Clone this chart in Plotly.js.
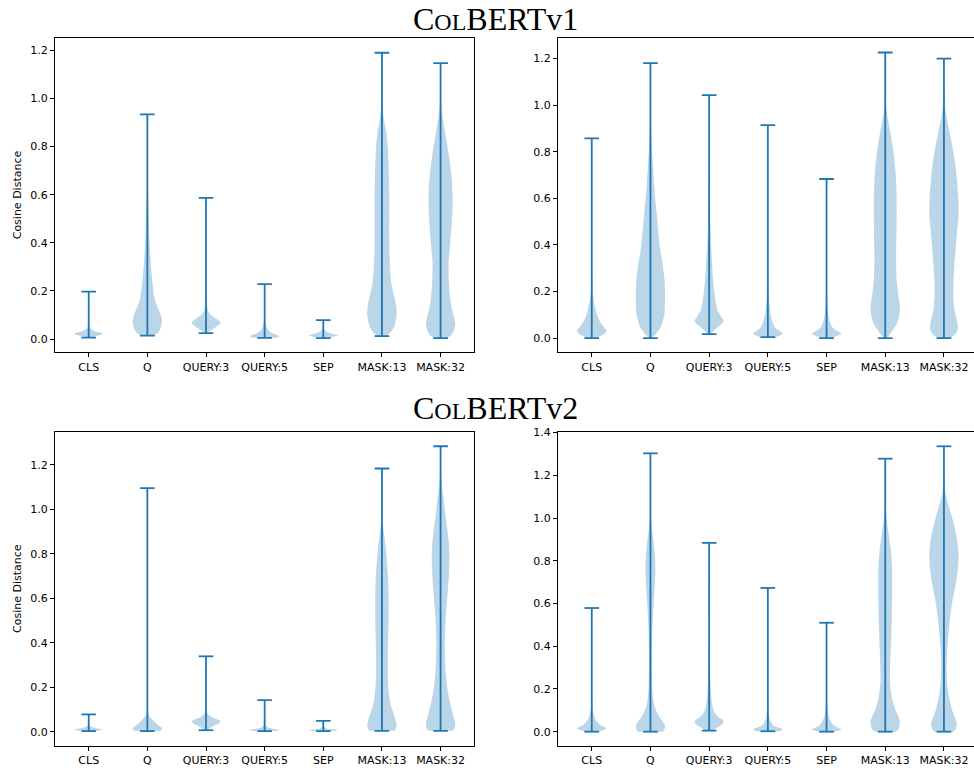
<!DOCTYPE html>
<html>
<head>
<meta charset="utf-8">
<script src="https://cdn.plot.ly/plotly-3.0.1.min.js"></script>
<style>html,body{margin:0;padding:0;background:#fff}#chart{width:974px;height:770px}</style>
</head>
<body>
<div id="chart"></div>
<script>
// ---------------- DATA ----------------
const categories = ['CLS', 'Q', 'QUERY:3', 'QUERY:5', 'SEP', 'MASK:13', 'MASK:32'];
const groupTitles = ['C<span style="font-size:24px">OL</span>BERTv1', 'C<span style="font-size:24px">OL</span>BERTv2'];
const yAxisLabel = 'Cosine Distance';

// Each violin: list of [cosine distance, relative density (0..1)], from min to max.
const v1LeftProfiles = [
  [[0.006,0.15],[0.012,0.45],[0.018,0.85],[0.023,1.0],[0.028,0.7],[0.035,0.35],[0.045,0.12],[0.06,0.04],[0.09,0.01],[0.197,0]],
  [[0.014,0.45],[0.025,0.7],[0.04,0.87],[0.06,0.97],[0.08,1.0],[0.1,0.92],[0.12,0.78],[0.15,0.58],[0.18,0.46],[0.25,0.32],[0.32,0.23],[0.38,0.17],[0.45,0.12],[0.52,0.08],[0.6,0.05],[0.7,0.02],[0.8,0.008],[0.934,0]],
  [[0.025,0.12],[0.035,0.3],[0.045,0.55],[0.055,0.8],[0.067,1.0],[0.078,0.85],[0.09,0.55],[0.1,0.35],[0.11,0.2],[0.13,0.09],[0.16,0.04],[0.22,0.01],[0.587,0]],
  [[0.005,0.75],[0.012,1.0],[0.018,0.8],[0.025,0.5],[0.035,0.28],[0.05,0.14],[0.07,0.06],[0.1,0.02],[0.228,0]],
  [[0.004,0.3],[0.01,0.7],[0.016,1.0],[0.022,0.6],[0.03,0.25],[0.04,0.08],[0.055,0.02],[0.079,0]],
  [[0.012,0.3],[0.03,0.62],[0.06,0.88],[0.1,1.0],[0.14,0.97],[0.18,0.82],[0.23,0.65],[0.3,0.55],[0.4,0.5],[0.5,0.5],[0.6,0.5],[0.7,0.47],[0.8,0.4],[0.86,0.3],[0.9,0.18],[0.95,0.06],[1.0,0.02],[1.1,0.005],[1.19,0]],
  [[0.004,0.45],[0.015,0.7],[0.035,0.9],[0.06,1.0],[0.09,0.92],[0.13,0.75],[0.18,0.64],[0.25,0.56],[0.32,0.55],[0.4,0.66],[0.48,0.76],[0.55,0.82],[0.6,0.82],[0.67,0.75],[0.75,0.6],[0.82,0.42],[0.88,0.25],[0.93,0.12],[0.97,0.05],[1.05,0.01],[1.147,0]]
];
const v1RightProfiles = [
  [[0,0.3],[0.01,0.65],[0.02,0.9],[0.032,1.0],[0.045,0.85],[0.065,0.62],[0.09,0.42],[0.12,0.27],[0.16,0.13],[0.2,0.06],[0.3,0.02],[0.5,0.005],[0.857,0]],
  [[0,0.1],[0.02,0.4],[0.05,0.72],[0.1,0.95],[0.18,1.0],[0.25,0.96],[0.32,0.82],[0.39,0.64],[0.45,0.55],[0.52,0.45],[0.59,0.34],[0.66,0.25],[0.74,0.17],[0.81,0.1],[0.88,0.05],[0.95,0.02],[1.05,0.005],[1.18,0]],
  [[0.017,0.15],[0.03,0.3],[0.045,0.55],[0.06,0.85],[0.075,1.0],[0.09,0.85],[0.12,0.57],[0.15,0.46],[0.18,0.39],[0.25,0.27],[0.32,0.2],[0.39,0.14],[0.46,0.09],[0.55,0.05],[0.65,0.02],[0.8,0.008],[1.043,0]],
  [[0.004,0.5],[0.012,0.85],[0.02,1.0],[0.03,0.8],[0.04,0.58],[0.05,0.45],[0.065,0.34],[0.08,0.27],[0.1,0.2],[0.12,0.15],[0.15,0.1],[0.18,0.07],[0.22,0.04],[0.3,0.015],[0.5,0.004],[0.914,0]],
  [[0,0.3],[0.008,0.65],[0.018,1.0],[0.028,0.8],[0.038,0.55],[0.05,0.36],[0.065,0.25],[0.08,0.18],[0.1,0.12],[0.13,0.07],[0.18,0.035],[0.25,0.015],[0.4,0.004],[0.683,0]],
  [[0,0.12],[0.01,0.25],[0.03,0.47],[0.06,0.78],[0.09,0.93],[0.12,1.0],[0.16,0.95],[0.2,0.86],[0.25,0.78],[0.32,0.74],[0.4,0.75],[0.47,0.77],[0.55,0.78],[0.62,0.77],[0.7,0.72],[0.78,0.6],[0.85,0.44],[0.9,0.3],[0.95,0.15],[1.0,0.05],[1.07,0.015],[1.226,0]],
  [[0,0.45],[0.015,0.75],[0.035,0.93],[0.055,0.95],[0.08,0.87],[0.12,0.72],[0.18,0.64],[0.25,0.65],[0.32,0.72],[0.4,0.82],[0.47,0.92],[0.53,1.0],[0.6,0.98],[0.67,0.9],[0.74,0.79],[0.8,0.64],[0.86,0.46],[0.9,0.33],[0.95,0.18],[1.0,0.07],[1.07,0.02],[1.2,0]]
];
const v2LeftProfiles = [
  [[0.003,0.4],[0.007,0.8],[0.011,1.0],[0.015,0.6],[0.02,0.25],[0.027,0.08],[0.04,0.02],[0.078,0]],
  [[0.003,0.85],[0.01,0.98],[0.017,1.0],[0.025,0.85],[0.035,0.65],[0.045,0.48],[0.055,0.34],[0.065,0.2],[0.075,0.11],[0.09,0.05],[0.12,0.015],[0.2,0.004],[1.095,0]],
  [[0.007,0.1],[0.015,0.25],[0.025,0.5],[0.035,0.8],[0.045,1.0],[0.053,0.85],[0.06,0.6],[0.068,0.35],[0.075,0.18],[0.085,0.07],[0.1,0.02],[0.15,0.005],[0.339,0]],
  [[0.003,0.85],[0.007,1.0],[0.012,0.7],[0.017,0.35],[0.023,0.15],[0.03,0.06],[0.045,0.02],[0.08,0.005],[0.142,0]],
  [[0.003,0.7],[0.007,1.0],[0.011,0.6],[0.015,0.25],[0.02,0.08],[0.03,0.02],[0.049,0]],
  [[0.004,0.85],[0.015,0.95],[0.03,1.0],[0.045,0.96],[0.065,0.88],[0.09,0.75],[0.12,0.6],[0.16,0.5],[0.2,0.44],[0.26,0.4],[0.33,0.4],[0.4,0.42],[0.5,0.45],[0.6,0.46],[0.68,0.43],[0.75,0.36],[0.82,0.27],[0.88,0.17],[0.93,0.08],[0.98,0.03],[1.05,0.008],[1.183,0]],
  [[0.004,0.8],[0.015,0.95],[0.03,1.0],[0.05,0.96],[0.075,0.85],[0.11,0.72],[0.15,0.58],[0.2,0.45],[0.26,0.36],[0.33,0.3],[0.4,0.29],[0.47,0.32],[0.54,0.38],[0.62,0.48],[0.7,0.56],[0.78,0.6],[0.85,0.56],[0.92,0.44],[0.98,0.32],[1.04,0.22],[1.1,0.1],[1.15,0.04],[1.2,0.01],[1.283,0]]
];
const v2RightProfiles = [
  [[0,0.4],[0.007,0.75],[0.015,1.0],[0.024,0.8],[0.033,0.57],[0.045,0.38],[0.056,0.27],[0.07,0.18],[0.087,0.11],[0.11,0.06],[0.14,0.03],[0.2,0.012],[0.3,0.004],[0.579,0]],
  [[0,0.85],[0.01,0.95],[0.025,1.0],[0.04,0.92],[0.056,0.75],[0.075,0.55],[0.1,0.38],[0.13,0.24],[0.17,0.16],[0.22,0.12],[0.3,0.1],[0.38,0.1],[0.46,0.12],[0.53,0.16],[0.61,0.23],[0.69,0.3],[0.76,0.34],[0.83,0.3],[0.9,0.2],[0.95,0.1],[1.0,0.04],[1.08,0.01],[1.303,0]],
  [[0.005,0.2],[0.015,0.45],[0.025,0.7],[0.035,0.9],[0.045,1.0],[0.055,0.92],[0.07,0.6],[0.085,0.42],[0.1,0.3],[0.13,0.2],[0.165,0.14],[0.2,0.1],[0.25,0.07],[0.32,0.035],[0.4,0.015],[0.55,0.004],[0.884,0]],
  [[0.002,0.7],[0.007,0.95],[0.012,1.0],[0.018,0.75],[0.025,0.5],[0.033,0.34],[0.045,0.22],[0.056,0.16],[0.07,0.11],[0.087,0.07],[0.12,0.035],[0.17,0.015],[0.25,0.005],[0.673,0]],
  [[0,0.5],[0.006,0.85],[0.012,1.0],[0.02,0.75],[0.033,0.45],[0.045,0.32],[0.056,0.23],[0.07,0.15],[0.087,0.1],[0.11,0.06],[0.15,0.03],[0.2,0.012],[0.3,0.004],[0.51,0]],
  [[0,0.7],[0.01,0.9],[0.03,0.98],[0.05,1.0],[0.07,0.9],[0.1,0.7],[0.14,0.52],[0.18,0.4],[0.23,0.33],[0.3,0.33],[0.38,0.37],[0.46,0.42],[0.54,0.45],[0.62,0.47],[0.7,0.48],[0.78,0.46],[0.85,0.38],[0.92,0.25],[0.97,0.14],[1.02,0.06],[1.08,0.02],[1.15,0.005],[1.278,0]],
  [[0,0.65],[0.012,0.8],[0.03,0.87],[0.05,0.83],[0.075,0.7],[0.1,0.56],[0.14,0.42],[0.18,0.3],[0.23,0.22],[0.3,0.18],[0.38,0.22],[0.45,0.3],[0.53,0.41],[0.61,0.57],[0.69,0.8],[0.76,0.95],[0.83,1.0],[0.9,0.9],[0.96,0.72],[1.0,0.57],[1.04,0.4],[1.08,0.23],[1.12,0.1],[1.16,0.035],[1.22,0.01],[1.336,0]]
];

// ---------------- STYLE / LAYOUT ----------------
const C0 = '#1f77b4';
const BODY = 'rgba(31,119,180,0.3)';
const HALF = 0.25;      // half of violin width (widths = 0.5)
const CAP = 0.125;      // half cap length
const W = 974, H = 770;

const panels = [
  {profiles: v1LeftProfiles,  xa: 'x',  ya: 'y',  xd: [55/W, 474.3/W], yd: [1-352.3/H, 1-38.3/H], yr: [-0.055, 1.25],  xr: [0.425, 7.575], right: false},
  {profiles: v1RightProfiles, xa: 'x2', ya: 'y2', xd: [558/W, 1],      yd: [1-352.3/H, 1-38.3/H], yr: [-0.061, 1.287], xr: [0.425, 7.512], right: true},
  {profiles: v2LeftProfiles,  xa: 'x3', ya: 'y3', xd: [55/W, 474.3/W], yd: [1-746/H, 1-432/H],    yr: [-0.064, 1.347], xr: [0.425, 7.575], right: false},
  {profiles: v2RightProfiles, xa: 'x4', ya: 'y4', xd: [558/W, 1],      yd: [1-746/H, 1-432/H],    yr: [-0.067, 1.403], xr: [0.425, 7.512], right: true}
];

const traces = [];
const layout = {
  width: W, height: H,
  margin: {l: 0, r: 0, t: 0, b: 0},
  paper_bgcolor: '#fff', plot_bgcolor: '#fff',
  showlegend: false,
  font: {family: 'DejaVu Sans', size: 11, color: '#000'},
  annotations: []
};

panels.forEach((p, pi) => {
  // bodies
  p.profiles.forEach((prof, ci) => {
    const pos = ci + 1;
    const xs = [], ys = [];
    prof.forEach(([y, w]) => { xs.push(pos + HALF * w); ys.push(y); });
    for (let k = prof.length - 1; k >= 0; k--) { xs.push(pos - HALF * prof[k][1]); ys.push(prof[k][0]); }
    traces.push({
      type: 'scatter', mode: 'lines', x: xs, y: ys, xaxis: p.xa, yaxis: p.ya,
      fill: 'toself', fillcolor: BODY, line: {width: 0, shape: 'spline', smoothing: 0.6},
      hoverinfo: 'skip'
    });
  });
  // whiskers and caps
  const lx = [], ly = [];
  p.profiles.forEach((prof, ci) => {
    const pos = ci + 1;
    const mn = prof[0][0], mx = prof[prof.length - 1][0];
    lx.push(pos, pos, null, pos - CAP, pos + CAP, null, pos - CAP, pos + CAP, null);
    ly.push(mn, mx, null, mx, mx, null, mn, mn, null);
  });
  traces.push({
    type: 'scatter', mode: 'lines', x: lx, y: ly, xaxis: p.xa, yaxis: p.ya,
    line: {color: C0, width: 1.8}, hoverinfo: 'skip', connectgaps: false
  });

  const sfx = pi === 0 ? '' : String(pi + 1);
  layout['xaxis' + sfx] = {
    domain: p.xd, range: p.xr, anchor: p.ya,
    tickmode: 'array', tickvals: categories.map((_, i) => i + 1), ticktext: categories,
    showgrid: false, zeroline: false,
    showline: true, linecolor: '#000', linewidth: 1, mirror: true,
    ticks: 'outside', ticklen: 4, tickwidth: 1, tickcolor: '#000',
    tickfont: {family: 'DejaVu Sans', size: 11, color: '#000'}, fixedrange: true
  };
  layout['yaxis' + sfx] = {
    domain: p.yd, range: p.yr, anchor: p.xa,
    tick0: 0, dtick: 0.2, tickformat: '.1f',
    showgrid: false, zeroline: false,
    showline: true, linecolor: '#000', linewidth: 1, mirror: p.right ? false : true,
    ticks: 'outside', ticklen: 4, tickwidth: 1, tickcolor: '#000',
    tickfont: {family: 'DejaVu Sans', size: 11, color: '#000'}, fixedrange: true
  };
  if (!p.right) {
    layout.annotations.push({
      text: yAxisLabel, xref: 'paper', yref: 'paper',
      x: 17 / W, y: (p.yd[0] + p.yd[1]) / 2, xanchor: 'center', yanchor: 'middle',
      textangle: -90, showarrow: false, font: {family: 'DejaVu Sans', size: 11, color: '#000'}
    });
  }
});

// group titles (top of text box given in pixels from the top)
[[0, 0], [1, 389]].forEach(([gi, topPx]) => {
  layout.annotations.push({
    text: groupTitles[gi], xref: 'paper', yref: 'paper',
    x: 495 / W, y: 1 - topPx / H, xanchor: 'center', yanchor: 'top',
    showarrow: false, borderpad: 0, font: {family: 'Liberation Serif', size: 32, color: '#000'}
  });
});

Plotly.newPlot('chart', traces, layout, {staticPlot: true, displayModeBar: false});
</script>
</body>
</html>
